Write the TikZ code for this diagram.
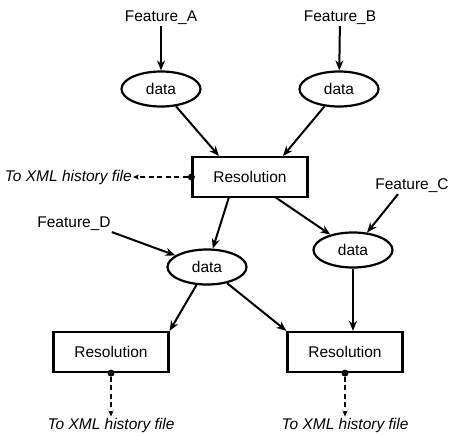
\documentclass[tikz,border=0pt]{standalone}
\usepackage{fontspec}
\setmainfont{Liberation Sans}
\usetikzlibrary{shapes.geometric,arrows.meta}
\begin{document}
\begin{tikzpicture}[x=1pt,y=-1pt,
  every node/.style={font=\fontsize{15.5}{18}\selectfont},
  datanode/.style={ellipse,draw,line width=2.2pt,minimum width=79pt,minimum height=35pt,inner sep=0pt},
  resbox/.style={rectangle,draw,line width=2.2pt,minimum width=115pt,minimum height=40pt,inner sep=0pt},
  lbl/.style={inner sep=1pt},
  hist/.style={inner sep=1pt,font=\fontsize{15.5}{18}\selectfont\itshape},
  arr/.style={line width=2pt,-{Stealth[length=10pt,width=8pt]}},
  darr/.style={line width=1.3pt,dash pattern=on 5pt off 3.5pt,-{Stealth[length=6pt,width=5pt]}},
  dot/.style={circle,fill,inner sep=0pt,minimum size=7pt}
]
\useasboundingbox (0,0) rectangle (463,436);
\node[lbl] (fa) at (161,18) {Feature\_A};
\node[lbl] (fb) at (340,18) {Feature\_B};
\node[datanode] (da) at (161,89) {data};
\node[datanode] (db) at (339,89) {data};
\node[resbox] (r1) at (250,177) {Resolution};
\node[hist,anchor=east] (h1) at (133,177) {To XML history file};
\node[lbl] (fd) at (74,224) {Feature\_D};
\node[lbl] (fc) at (412,186) {Feature\_C};
\node[datanode] (dd) at (207,267) {data};
\node[datanode] (dc) at (353,250) {data};
\node[resbox] (r2) at (111,352) {Resolution};
\node[resbox] (r3) at (345,352) {Resolution};
\node[hist] (h2) at (111,425) {To XML history file};
\node[hist] (h3) at (345,425) {To XML history file};
\draw[arr] (fa) -- (da);
\draw[arr] (fb) -- (db);
\draw[arr] (da) -- (219,156);
\draw[arr] (db) -- (283,156);
\draw[arr] (229,197) -- (dd);
\draw[arr] (275,197) -- (dc);
\draw[arr] (fd.south east) -- (dd);
\draw[arr] (fc.south) ++(-14,0) -- (dc);
\draw[arr] (dd) -- (r2.north east);
\draw[arr] (dd) -- (r3.north west);
\draw[arr] (dc) -- (r3.north -| dc);
\node[dot] (p1) at (r1.west) {};
\node[dot] (p2) at (r2.south) {};
\node[dot] (p3) at (r3.south) {};
\draw[darr] (p1) -- (h1.east);
\draw[darr] (p2) -- (h2.north);
\draw[darr] (p3) -- (h3.north);
\end{tikzpicture}
\end{document}
